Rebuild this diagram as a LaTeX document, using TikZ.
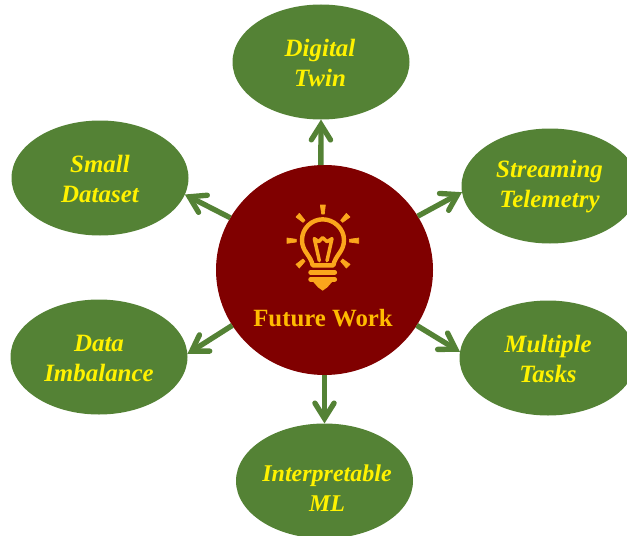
\documentclass[tikz,border=0pt]{standalone}
\usepackage{fontspec}
\setmainfont{Liberation Serif}
\usetikzlibrary{shapes.geometric,arrows.meta}
\definecolor{leaf}{HTML}{548235}
\definecolor{core}{HTML}{800000}
\definecolor{bulb}{HTML}{FBA61C}
\definecolor{gold}{HTML}{FFBB00}
\pgfdeclarearrow{
  name=OpenHead,
  cache=false,
  setup code={
    \pgfarrowssettipend{3.8pt}
    \pgfarrowssetlineend{-3pt}
    \pgfarrowssetbackend{-13pt}
    \pgfarrowssetvisualbackend{-3pt}
  },
  drawing code={
    \pgfsetdash{}{0pt}
    \pgfsetlinewidth{4pt}
    \pgfsetroundcap
    \pgfsetmiterjoin
    \pgfpathmoveto{\pgfpoint{-11.5pt}{7.2pt}}
    \pgfpathlineto{\pgfpoint{0pt}{0pt}}
    \pgfpathlineto{\pgfpoint{-11.5pt}{-7.2pt}}
    \pgfusepathqstroke
  }
}
\tikzset{
  topic/.style={shape=ellipse,fill=leaf,draw=none,inner sep=0pt,outer sep=0pt,minimum width=177*0.75pt,minimum height=115*0.75pt},
  topictext/.style={align=center,text=yellow,font=\fontsize{18.7pt}{22.5pt}\selectfont\bfseries\itshape,inner sep=0pt},
  link/.style={draw=leaf,line width=4pt,-{OpenHead}},
  bulbline/.style={draw=bulb,line width=3.3pt,line cap=round,line join=round},
  ray/.style={fill=bulb,draw=bulb,line width=0.5pt,line join=round}
}
\begin{document}
\begin{tikzpicture}[x=0.75pt,y=-0.75pt]
\useasboundingbox (0,0) rectangle (627,535);
\clip (0,0) rectangle (627,535);
\node[shape=ellipse,fill=core,inner sep=0pt,outer sep=0pt,minimum width=217*0.75pt,minimum height=210*0.75pt] (core) at (324.5,270) {};
\node[topic] (twin) at (321,62) {};
\node[topic] (small) at (100,178) {};
\node[topic] (stream) at (550,186) {};
\node[topic] (multi) at (548,358) {};
\node[topic] (imbal) at (99,357) {};
\node[topic] (interp) at (324.5,481) {};
\node[topictext] at (320,63) {Digital\\Twin};
\node[topictext] at (100,179) {Small\\Dataset};
\node[topictext] at (549.5,187) {Streaming\\Telemetry};
\node[topictext] at (548,359) {Multiple\\Tasks};
\node[topictext] at (99,358) {Data\\Imbalance};
\node[topictext,font=\fontsize{18pt}{22.5pt}\selectfont\bfseries\itshape] at (327,488) {Interpretable\\ML};
\draw[link] (core.92.5) -- (twin.270);
\draw[link] (core.151.8) -- (small.349.8);
\draw[link] (core.30) -- (stream.184.4);
\draw[link] (core.-31.9) -- (multi.176);
\draw[link] (core.211.6) -- (imbal.2);
\draw[link] (core.270) -- (interp.90);
\node[text=gold,font=\fontsize{18.6pt}{22pt}\selectfont\bfseries,inner sep=0pt] (fw) at (323,318.5) {Future Work};
\begin{scope}[shift={(270,190)},x=0.25pt,y=-0.25pt]
  \draw[bulbline] (128,226) .. controls (122,195) and (96,185) .. (96,150)
     .. controls (96,115) and (125,88) .. (158,88)
     .. controls (191,88) and (222,115) .. (222,150)
     .. controls (222,185) and (196,195) .. (190,226) -- cycle;
  \draw[bulbline,line width=2.6pt] (148,212) -- (133,146) -- (146,155) -- (158,143) -- (171,155) -- (186,146) -- (171,212);
  \draw[bulbline,line width=3.6pt] (122,247) -- (194,247);
  \draw[bulbline,line width=3.6pt] (122,268) -- (194,268);
  \fill[bulb] (130,276) -- (186,276) -- (172,292) -- (158,302) -- (144,292) -- cycle;
  \filldraw[ray] (151,45) -- (166,45) -- (163,72) -- (155,72) -- cycle;
  \filldraw[ray] (51,144) -- (79,148) -- (79,156) -- (51,160) -- cycle;
  \filldraw[ray] (266,144) -- (238,148) -- (238,156) -- (266,160) -- cycle;
  \filldraw[ray] (88,70) -- (105,91) -- (99,97) -- (78,81) -- cycle;
  \filldraw[ray] (229,70) -- (212,91) -- (218,97) -- (240,81) -- cycle;
  \filldraw[ray] (99,207) -- (105,214) -- (88,234) -- (78,223) -- cycle;
  \filldraw[ray] (218,207) -- (212,214) -- (229,234) -- (240,223) -- cycle;
\end{scope}
\end{tikzpicture}
\end{document}
